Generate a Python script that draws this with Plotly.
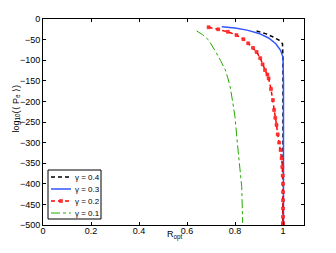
import plotly.graph_objects as go

# gamma = 0.4
r04 = [0.89, 0.93, 0.96, 0.985, 0.998, 1.0, 1.0, 1.0, 1.0]
p04 = [-29, -36, -44, -52, -60, -100, -250, -400, -500]
# gamma = 0.3
r03 = [0.745, 0.80, 0.85, 0.90, 0.94, 0.97, 0.99, 1.0, 1.002, 1.002, 1.002]
p03 = [-19, -22, -27, -35, -46, -60, -76, -93, -150, -300, -500]
# gamma = 0.2
r02 = [0.69, 0.73, 0.77, 0.806, 0.835, 0.855, 0.875, 0.89, 0.905, 0.915, 0.925, 0.935, 0.94, 0.95, 0.958, 0.963,
       0.968, 0.973, 0.978, 0.984, 0.99, 0.994, 0.997, 0.999, 1.0, 1.0, 1.0, 1.0, 1.0, 1.0, 1.0]
p02 = [-20, -25, -31, -39, -49, -59, -70, -80, -95, -110, -124, -135, -144, -170, -197, -221,
       -240, -257, -280, -300, -318, -338, -359, -380, -400, -420, -440, -460, -480, -495, -500]
# gamma = 0.1
r01 = [0.64, 0.665, 0.69, 0.705, 0.72, 0.74, 0.76, 0.77, 0.78, 0.79, 0.80, 0.81, 0.82, 0.828, 0.832]
p01 = [-29, -38, -51, -64, -80, -101, -124, -143, -165, -200, -238, -302, -355, -407, -495]

labels = ["γ = 0.4", "γ = 0.3", "γ = 0.2", "γ = 0.1"]
xticks = [0, 0.2, 0.4, 0.6, 0.8, 1]
yticks = [0, -50, -100, -150, -200, -250, -300, -350, -400, -450, -500]

FONT = "Liberation Sans, Arial"
W, H = 336, 253
ML, MR, MT, MB = 43, 32, 19, 28
PW, PH = W - ML - MR, H - MT - MB


def px(x):
    return (x - ML) / PW


def py(y):
    return (H - MB - y) / PH


styles = [
    dict(color="black", dash="4px,3px", width=1.5),
    dict(color="#3355ff", width=1.5),
    dict(color="#ff0000", dash="4px,3px", width=1.5),
    dict(color="#22aa00", dash="dashdot", width=1),
]
series = [(r04, p04), (r03, p03), (r02, p02), (r01, p01)]

fig = go.Figure()
for i, (xs, ys) in enumerate(series):
    if i == 2:
        fig.add_trace(go.Scatter(x=xs, y=ys, mode="lines+markers", name=labels[i], line=styles[i],
                                 marker=dict(symbol="square", size=3, color="#ff3333",
                                             line=dict(color="#ff0000", width=0.5)),
                                 showlegend=False))
    else:
        fig.add_trace(go.Scatter(x=xs, y=ys, mode="lines", name=labels[i], line=styles[i],
                                 showlegend=False))

axis_common = dict(showline=True, linecolor="black", linewidth=1, mirror="ticks",
                   ticks="inside", ticklen=3, tickcolor="black", showgrid=False,
                   zeroline=False, automargin=False,
                   tickfont=dict(family=FONT, size=9, color="black"))
fig.update_xaxes(range=[0, 1.0875], tickvals=xticks, ticktext=[str(v) for v in xticks],
                 ticklabelstandoff=-3, **axis_common)
fig.update_yaxes(range=[-500, 0], tickvals=yticks,
                 ticktext=[str(v).replace("-", "\u2212") for v in yticks], **axis_common)

annotations = [
    dict(text="R<sub>opt</sub>", x=px(175), y=py(243), xref="paper", yref="paper",
         showarrow=False, font=dict(family=FONT, size=9, color="black")),
    dict(text="log<sub>10</sub>(⟨ P<sub>e</sub> ⟩)", x=px(8), y=py(109), xref="paper", yref="paper",
         showarrow=False, textangle=-90, font=dict(family=FONT, size=9, color="black")),
]
shapes = [dict(type="rect", xref="paper", yref="paper", x0=px(48), x1=px(101), y0=py(219), y1=py(170),
               line=dict(color="black", width=1), fillcolor="white", layer="above")]
rows = [177, 189, 201, 213]
for i, ry in enumerate(rows):
    shapes.append(dict(type="line", xref="paper", yref="paper", x0=px(51), x1=px(71), y0=py(ry), y1=py(ry),
                       line=styles[i], layer="above"))
    annotations.append(dict(text=labels[i], x=px(73), y=py(ry), xref="paper", yref="paper",
                            xanchor="left", yanchor="middle", showarrow=False,
                            font=dict(family=FONT, size=8, color="black")))
shapes.append(dict(type="rect", xref="paper", yref="paper", x0=px(59.5), x1=px(62.5),
                   y0=py(rows[2] + 1.5), y1=py(rows[2] - 1.5),
                   line=dict(color="#ff0000", width=0.5), fillcolor="#ff3333", layer="above"))

fig.update_layout(width=W, height=H, margin=dict(l=ML, r=MR, t=MT, b=MB, autoexpand=False),
                  paper_bgcolor="white", plot_bgcolor="white", showlegend=False,
                  annotations=annotations, shapes=shapes)
fig.write_html("out.html", config={"displayModeBar": False},
               post_script="document.body.style.margin='0px';")
